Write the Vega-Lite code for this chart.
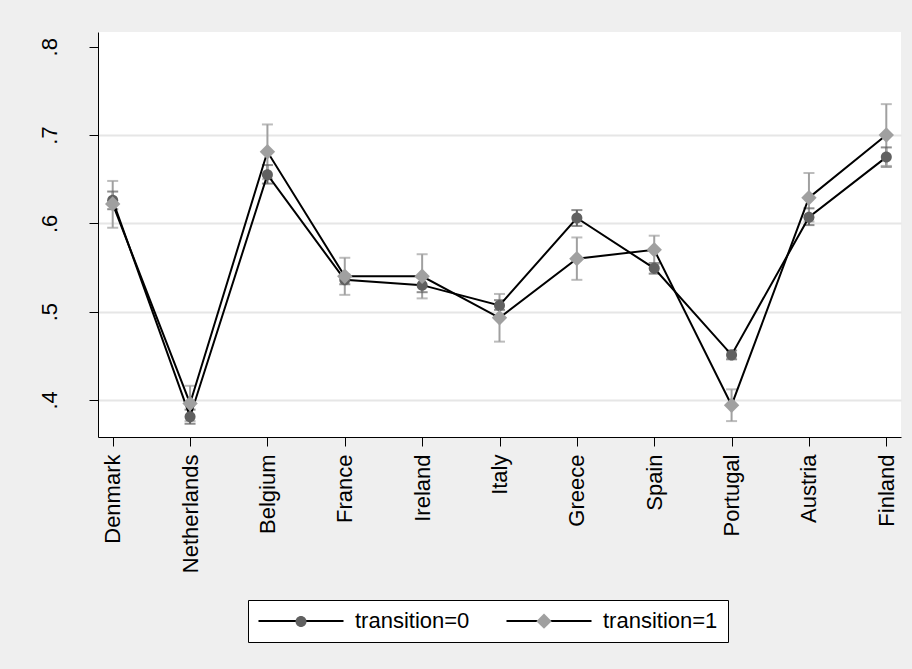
{
  "$schema": "https://vega.github.io/schema/vega-lite/v6.json",
  "autosize": {"type": "none"},
  "padding": {"left": 98, "top": 32, "right": 11, "bottom": 232},
  "width": 803,
  "height": 405,
  "background": "#efefef",
  "config": {
    "font": "Liberation Sans",
    "view": {"fill": "white", "stroke": null}
  },
  "data": {
    "values": [
      {"country": "Denmark", "t": "transition=0", "est": 0.626, "lo": 0.616, "hi": 0.636},
      {"country": "Netherlands", "t": "transition=0", "est": 0.381, "lo": 0.373, "hi": 0.389},
      {"country": "Belgium", "t": "transition=0", "est": 0.655, "lo": 0.645, "hi": 0.666},
      {"country": "France", "t": "transition=0", "est": 0.536, "lo": 0.531, "hi": 0.542},
      {"country": "Ireland", "t": "transition=0", "est": 0.530, "lo": 0.522, "hi": 0.538},
      {"country": "Italy", "t": "transition=0", "est": 0.507, "lo": 0.502, "hi": 0.513},
      {"country": "Greece", "t": "transition=0", "est": 0.606, "lo": 0.597, "hi": 0.615},
      {"country": "Spain", "t": "transition=0", "est": 0.549, "lo": 0.543, "hi": 0.555},
      {"country": "Portugal", "t": "transition=0", "est": 0.451, "lo": 0.446, "hi": 0.456},
      {"country": "Austria", "t": "transition=0", "est": 0.607, "lo": 0.598, "hi": 0.617},
      {"country": "Finland", "t": "transition=0", "est": 0.675, "lo": 0.664, "hi": 0.686},
      {"country": "Denmark", "t": "transition=1", "est": 0.622, "lo": 0.595, "hi": 0.648},
      {"country": "Netherlands", "t": "transition=1", "est": 0.396, "lo": 0.376, "hi": 0.416},
      {"country": "Belgium", "t": "transition=1", "est": 0.681, "lo": 0.650, "hi": 0.712},
      {"country": "France", "t": "transition=1", "est": 0.540, "lo": 0.519, "hi": 0.561},
      {"country": "Ireland", "t": "transition=1", "est": 0.540, "lo": 0.515, "hi": 0.565},
      {"country": "Italy", "t": "transition=1", "est": 0.493, "lo": 0.466, "hi": 0.520},
      {"country": "Greece", "t": "transition=1", "est": 0.560, "lo": 0.536, "hi": 0.584},
      {"country": "Spain", "t": "transition=1", "est": 0.570, "lo": 0.554, "hi": 0.586},
      {"country": "Portugal", "t": "transition=1", "est": 0.394, "lo": 0.376, "hi": 0.412},
      {"country": "Austria", "t": "transition=1", "est": 0.629, "lo": 0.602, "hi": 0.657},
      {"country": "Finland", "t": "transition=1", "est": 0.700, "lo": 0.665, "hi": 0.735}
    ]
  },
  "encoding": {
    "x": {
      "field": "country",
      "type": "nominal",
      "sort": null,
      "scale": {"type": "point", "padding": 0.19},
      "axis": {
        "title": null,
        "labelAngle": -90,
        "labelAlign": "right",
        "labelBaseline": "middle",
        "labelFontSize": 22,
        "labelColor": "black",
        "labelPadding": 8,
        "tickSize": 9,
        "tickColor": "black",
        "domainColor": "black",
        "domainWidth": 1,
        "grid": false
      }
    }
  },
  "layer": [
    {
      "mark": {"type": "rule", "strokeWidth": 2},
      "encoding": {
        "y": {
          "field": "lo",
          "type": "quantitative",
          "scale": {"domain": [0.358, 0.8167], "nice": false, "zero": false},
          "axis": {
            "title": null,
            "values": [0.4, 0.5, 0.6, 0.7, 0.8],
            "labelExpr": "'.' + format(datum.value * 10, '.0f')",
            "labelAngle": -90,
            "labelAlign": "center",
            "labelBaseline": "bottom",
            "labelFontSize": 22,
            "labelColor": "black",
            "labelPadding": 28,
            "tickSize": 9,
            "tickColor": "black",
            "domainColor": "black",
            "domainWidth": 1,
            "grid": true,
            "gridColor": "#e6e6e6",
            "gridWidth": 2,
            "gridOpacity": {"condition": {"test": "datum.value > 0.75", "value": 0}, "value": 1}
          }
        },
        "y2": {"field": "hi"},
        "color": {
          "field": "t",
          "type": "nominal",
          "scale": {"domain": ["transition=0", "transition=1", "x"], "range": ["#606060", "#a0a0a0", "#000000"]},
          "legend": null
        }
      }
    },
    {
      "mark": {"type": "tick", "size": 11, "thickness": 2},
      "encoding": {
        "y": {"field": "hi", "type": "quantitative"},
        "color": {"field": "t", "type": "nominal", "legend": null}
      }
    },
    {
      "mark": {"type": "tick", "size": 11, "thickness": 2},
      "encoding": {
        "y": {"field": "lo", "type": "quantitative"},
        "color": {"field": "t", "type": "nominal", "legend": null}
      }
    },
    {
      "mark": {"type": "line", "strokeWidth": 2},
      "encoding": {
        "y": {"field": "est", "type": "quantitative"},
        "stroke": {
          "field": "t",
          "type": "nominal",
          "scale": {"range": ["black", "black"]},
          "legend": {
            "title": null,
            "orient": "none",
            "legendX": 150,
            "legendY": 568,
            "direction": "horizontal",
            "strokeColor": "black",
            "fillColor": "white",
            "padding": 10,
            "symbolType": "M-7.73,0H7.73",
            "symbolSize": 121,
            "symbolStrokeWidth": 2,
            "symbolStrokeColor": "black",
            "symbolOffset": 32,
            "labelFontSize": 22,
            "labelColor": "black",
            "labelOffset": 43,
            "columnPadding": 32
          }
        }
      }
    },
    {
      "mark": {"type": "point", "filled": true, "size": 121, "strokeWidth": 0, "opacity": 1},
      "encoding": {
        "y": {"field": "est", "type": "quantitative"},
        "fill": {
          "field": "t",
          "type": "nominal",
          "scale": {"domain": ["transition=0", "transition=1"], "range": ["#606060", "#a0a0a0"]},
          "legend": {
            "title": null,
            "orient": "none",
            "legendX": 150,
            "legendY": 568,
            "direction": "horizontal",
            "padding": 10,
            "symbolSize": 121,
            "symbolStrokeWidth": 2,
            "symbolStrokeColor": "transparent",
            "symbolOpacity": 1,
            "symbolOffset": 32,
            "labelExpr": "''",
            "labelFontSize": 22,
            "labelOffset": 43,
            "columnPadding": 146
          }
        },
        "shape": {
          "field": "t",
          "type": "nominal",
          "scale": {
            "domain": ["transition=0", "transition=1"],
            "range": [
              "M-1,0A1,1 0 1,0 1,0A1,1 0 1,0 -1,0Z",
              "M0,-1.4L1.4,0L0,1.4L-1.4,0Z"
            ]
          }
        }
      }
    }
  ]
}
